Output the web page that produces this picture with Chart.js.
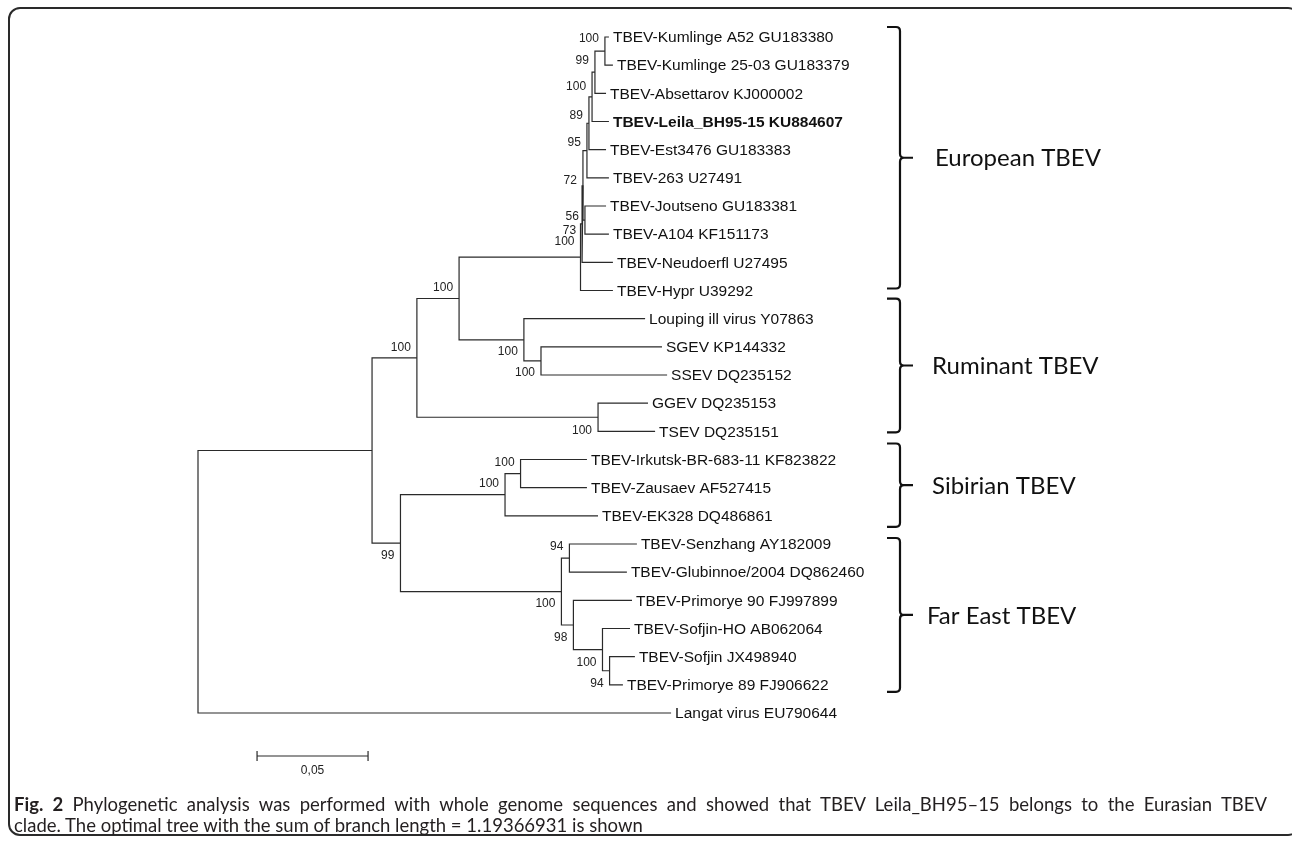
<!DOCTYPE html>
<html>
<head>
<meta charset="utf-8">
<title>TBEV phylogenetic tree</title>
<script src="https://cdn.jsdelivr.net/npm/chart.js@4.4.1/dist/chart.umd.min.js"></script>
<style>
  html, body { margin: 0; padding: 0; background: #fff; }
  #wrap { position: relative; width: 1292px; height: 841px; overflow: hidden; }
  #frame {
    position: absolute; left: 8px; top: 7px; width: 1292px; height: 829px;
    border: 2px solid #2a2a2a; border-radius: 12px; box-sizing: border-box;
  }
  #tree { position: absolute; left: 0; top: 0; }
  #caption {
    position: absolute; left: 14px; top: 794px; width: 1253px;
    font-family: Lato, "Open Sans", sans-serif; font-size: 18.5px; line-height: 21px;
    color: #231f20;
  }
  #caption .l1 { text-align: justify; text-align-last: justify; white-space: nowrap; }
  #caption .l2 { white-space: nowrap; }
</style>
</head>
<body>
<div id="wrap">
  <div id="frame"></div>
  <canvas id="tree" width="1292" height="841"></canvas>
  <div id="caption">
    <div class="l1"><b>Fig. 2</b> Phylogenetic analysis was performed with whole genome sequences and showed that TBEV Leila_BH95–15 belongs to the Eurasian TBEV</div>
    <div class="l2">clade. The optimal tree with the sum of branch length = 1.19366931 is shown</div>
  </div>
</div>

<script>
// tips, top to bottom (y = row index)
const leafNames = [
    'TBEV-Kumlinge A52 GU183380', 'TBEV-Kumlinge 25-03 GU183379', 'TBEV-Absettarov KJ000002',
    'TBEV-Leila_BH95-15 KU884607', 'TBEV-Est3476 GU183383', 'TBEV-263 U27491',
    'TBEV-Joutseno GU183381', 'TBEV-A104 KF151173', 'TBEV-Neudoerfl U27495', 'TBEV-Hypr U39292',
    'Louping ill virus Y07863', 'SGEV KP144332', 'SSEV DQ235152', 'GGEV DQ235153', 'TSEV DQ235151',
    'TBEV-Irkutsk-BR-683-11 KF823822', 'TBEV-Zausaev AF527415', 'TBEV-EK328 DQ486861',
    'TBEV-Senzhang AY182009', 'TBEV-Glubinnoe/2004 DQ862460', 'TBEV-Primorye 90 FJ997899',
    'TBEV-Sofjin-HO AB062064', 'TBEV-Sofjin JX498940', 'TBEV-Primorye 89 FJ906622',
    'Langat virus EU790644'
];
// distance of each tip from the root (substitutions per site)
const leafDepth = [
    0.1851, 0.1869, 0.1838, 0.1851, 0.1838, 0.1851, 0.1838, 0.1851, 0.1869, 0.1869,
    0.2014, 0.2090, 0.2113, 0.2027, 0.2059,
    0.1752, 0.1752, 0.1802,
    0.1977, 0.1932, 0.1955, 0.1946, 0.1968, 0.1914,
    0.2131
];
const boldLeaf = 3;

// internal nodes, numbered after the tips (25, 26, ...); last one is the root
const nodeChildren = [
    [0, 1], [25, 2], [26, 3], [27, 4], [28, 5], [6, 7], [29, 30], [31, 8], [32, 9],
    [11, 12], [10, 34], [33, 35], [13, 14], [36, 37],
    [15, 16], [39, 17], [22, 23], [21, 41], [20, 42], [18, 19], [44, 43], [40, 45],
    [38, 46], [47, 24]
];
const nodeDepth = [
    0.1833, 0.1788, 0.1775, 0.1761, 0.1752, 0.1743, 0.1734, 0.1730, 0.1723,
    0.1545, 0.1468, 0.1176, 0.1802, 0.0986,
    0.1453, 0.1383, 0.1854, 0.1822, 0.1691, 0.1673, 0.1637, 0.0912,
    0.0784, 0
];
const nodeSupport = [
    100, 99, 100, 89, 95, 56, 72, 73, 100,
    100, 100, 100, 100, 100,
    100, 100, 94, 100, 98, 94, 100, 99,
    null, null
];

const cladeNames = ['European TBEV', 'Ruminant TBEV', 'Sibirian TBEV', 'Far East TBEV'];
const cladeFirst = [0, 10, 15, 18];
const cladeLast = [9, 14, 17, 23];

const scaleBarLength = 0.05;
const scaleBarLabel = '0,05';

// ---- styles / placement ----
const nLeaves = leafNames.length;
const supportOffset = [
    -12, -12, -10, -8, -8, -3, -5, 7, -15,
    12, 12, -11, 13, -10,
    -11, -11, 13, 13, 13, -11, 12, 13,
    0, 0
];
const bracketPad = [[-10, -2], [-20, 1], [-16, 11], [-6, 7]];
const cladeTextGap = [35, 32, 32, 27];
const bracketX = 0.3162;
const scaleBarStart = 0.0266;
const lineColor = '#2a2a2a';

function depthOf(i) {
    return i < nLeaves ? leafDepth[i] : nodeDepth[i - nLeaves];
}
function rowOf(i) {
    if (i < nLeaves) return i;
    const c = nodeChildren[i - nLeaves];
    return (rowOf(c[0]) + rowOf(c[c.length - 1])) / 2;
}

// one bracket-shaped line per internal node
const branchSets = nodeChildren.map((kids, k) => {
    const d = nodeDepth[k];
    const a = kids[0], b = kids[kids.length - 1];
    return {
        data: [
            {x: depthOf(a), y: rowOf(a)},
            {x: d, y: rowOf(a)},
            {x: d, y: rowOf(b)},
            {x: depthOf(b), y: rowOf(b)}
        ],
        showLine: true,
        borderColor: lineColor,
        borderWidth: 1.2,
        pointRadius: 0,
        tension: 0,
        clip: false
    };
});

const treeText = {
    id: 'treeText',
    afterDatasetsDraw(chart) {
        const c = chart.ctx;
        const xs = chart.scales.x, ys = chart.scales.y;
        c.save();
        c.fillStyle = '#111';
        c.textBaseline = 'middle';

        // tip names
        c.textAlign = 'left';
        leafNames.forEach((name, i) => {
            c.font = (i === boldLeaf ? 'bold ' : '') + '15.5px "Liberation Sans", Arial, sans-serif';
            c.fillText(name, xs.getPixelForValue(leafDepth[i]) + 4, ys.getPixelForValue(i) + 1);
        });

        // bootstrap values
        c.font = '12px "Liberation Sans", Arial, sans-serif';
        c.fillStyle = '#222';
        c.textAlign = 'right';
        nodeSupport.forEach((s, k) => {
            if (s === null) return;
            const px = xs.getPixelForValue(nodeDepth[k]) - 6;
            const py = ys.getPixelForValue(rowOf(k + nLeaves)) + supportOffset[k];
            c.fillText(String(s), px, py);
        });

        // clade brackets
        const bx = Math.round(xs.getPixelForValue(bracketX));
        c.strokeStyle = '#111';
        c.lineWidth = 2.2;
        c.fillStyle = '#111';
        c.textAlign = 'left';
        c.font = '24px Lato, "Open Sans", sans-serif';
        cladeNames.forEach((name, j) => {
            const top = ys.getPixelForValue(cladeFirst[j]) + bracketPad[j][0];
            const bot = ys.getPixelForValue(cladeLast[j]) + bracketPad[j][1];
            const mid = (top + bot) / 2;
            c.beginPath();
            c.moveTo(bx - 13, top);
            c.lineTo(bx - 4, top);
            c.quadraticCurveTo(bx, top, bx, top + 4);
            c.lineTo(bx, mid - 4);
            c.quadraticCurveTo(bx, mid, bx + 4, mid);
            c.lineTo(bx + 13, mid);
            c.moveTo(bx + 4, mid);
            c.quadraticCurveTo(bx, mid, bx, mid + 4);
            c.lineTo(bx, bot - 4);
            c.quadraticCurveTo(bx, bot, bx - 4, bot);
            c.lineTo(bx - 13, bot);
            c.stroke();
            c.fillText(name, bx + cladeTextGap[j], mid + 1);
        });

        // scale bar
        const y0 = chart.chartArea.bottom + 43;
        const x0 = xs.getPixelForValue(scaleBarStart);
        const x1 = xs.getPixelForValue(scaleBarStart + scaleBarLength);
        c.strokeStyle = lineColor;
        c.lineWidth = 1.2;
        c.beginPath();
        c.moveTo(x0, y0); c.lineTo(x1, y0);
        c.moveTo(x0, y0 - 5); c.lineTo(x0, y0 + 5);
        c.moveTo(x1, y0 - 5); c.lineTo(x1, y0 + 5);
        c.stroke();
        c.font = '12px "Liberation Sans", Arial, sans-serif';
        c.fillStyle = '#222';
        c.textAlign = 'center';
        c.fillText(scaleBarLabel, (x0 + x1) / 2, y0 + 15);
        c.restore();
    }
};

const treeChart = new Chart(document.getElementById('tree').getContext('2d'), {
    type: 'scatter',
    data: { datasets: branchSets },
    options: {
        responsive: false,
        animation: false,
        devicePixelRatio: 1,
        layout: { padding: { left: 198, right: 206, top: 37, bottom: 128 } },
        scales: {
            x: { type: 'linear', min: 0, max: 0.4, display: false },
            y: { type: 'linear', min: 0, max: 24, reverse: true, display: false }
        },
        plugins: {
            legend: { display: false },
            tooltip: { enabled: false }
        }
    },
    plugins: [treeText]
});
</script>
</body>
</html>
